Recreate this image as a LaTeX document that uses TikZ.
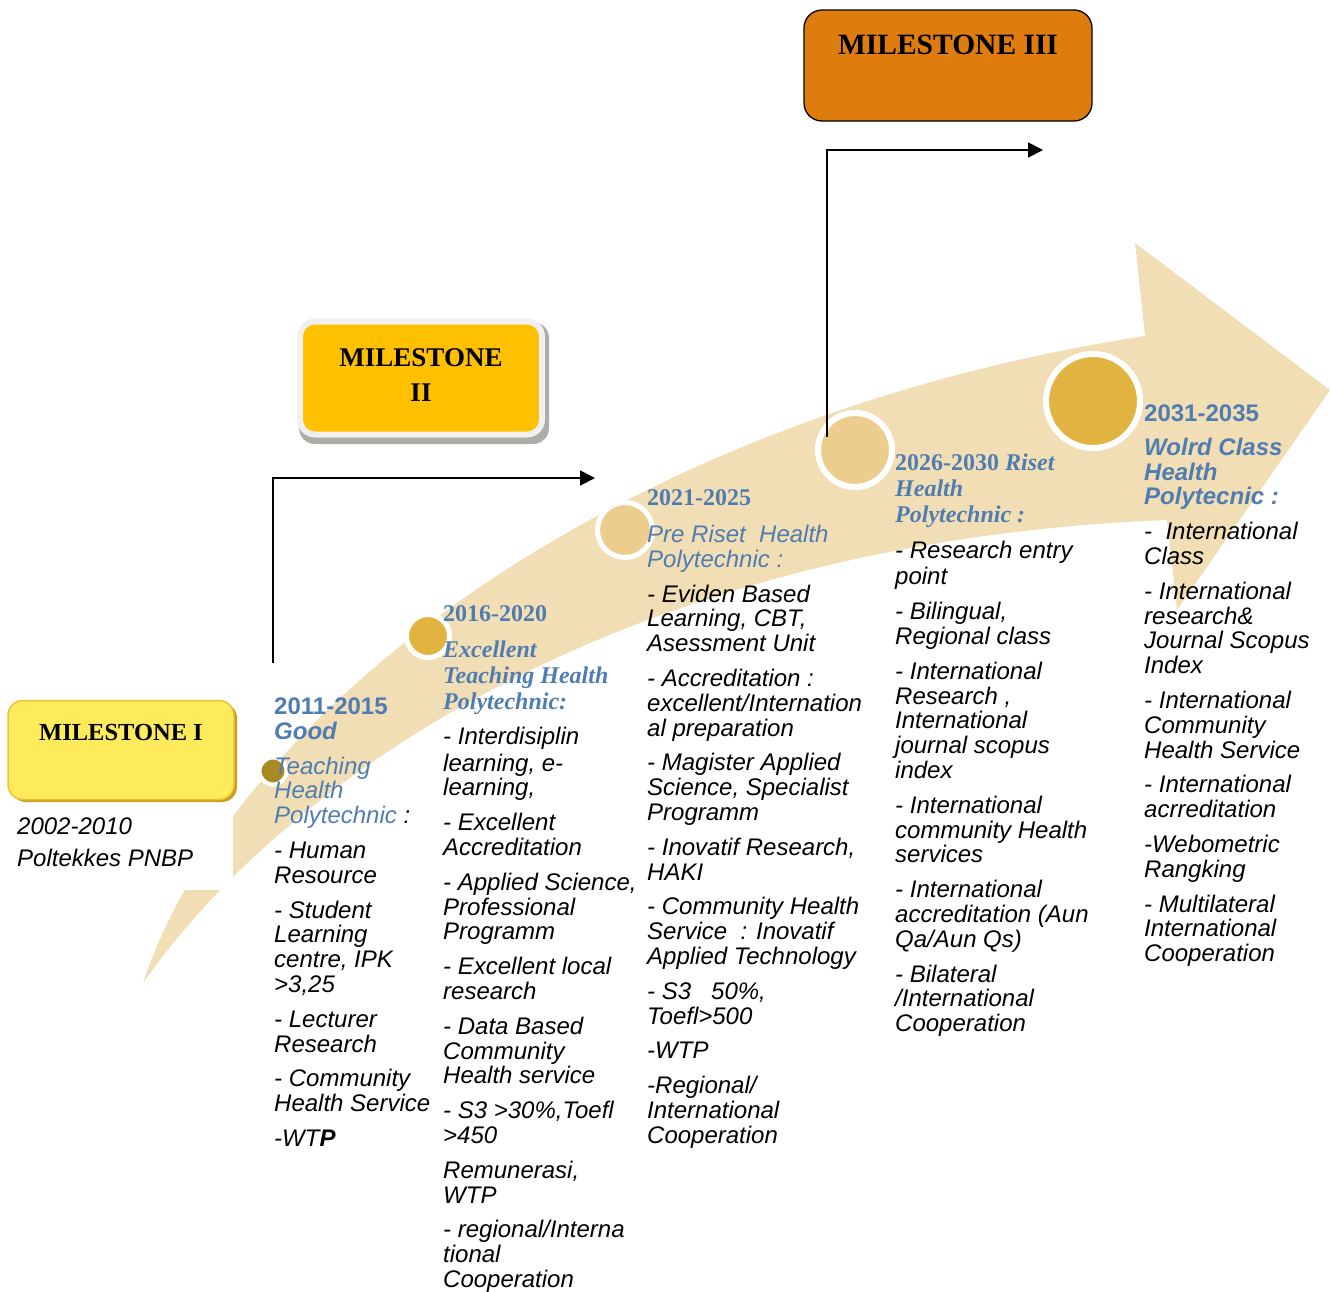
\documentclass[tikz,border=0pt]{standalone}
\usepackage{fontspec}
\setmainfont{Liberation Serif}
\setsansfont{Liberation Sans}
\usetikzlibrary{arrows.meta}
\definecolor{bandtan}{RGB}{242,222,181}
\definecolor{goldA}{RGB}{225,180,65}
\definecolor{goldB}{RGB}{236,205,142}
\definecolor{olivedot}{RGB}{168,138,34}
\definecolor{headblue}{RGB}{79,125,178}
\definecolor{msone}{RGB}{253,235,91}
\definecolor{msoneedge}{RGB}{233,194,52}
\definecolor{msoneshade}{RGB}{196,160,30}
\definecolor{mstwo}{RGB}{255,192,0}
\definecolor{msframe}{RGB}{240,240,240}
\definecolor{msshade}{RGB}{170,174,164}
\definecolor{msthree}{RGB}{222,124,14}
\newcommand{\hcol}[1]{\textcolor{headblue}{#1}}

\begin{document}
\begin{tikzpicture}[x=1pt,y=-1pt,
	txtcol/.style={anchor=north west,inner sep=0pt,align=left,font=\sffamily\itshape\fontsize{24}{24.8}\selectfont},
	ring/.style={shape=circle,draw=white,inner sep=0pt},
	conn/.style={line width=1.8pt,-{Triangle[length=15pt,width=15pt]}},
	mstext/.style={inner sep=0pt,align=center,font=\rmfamily\bfseries\fontsize{27}{35}\selectfont}]
	\useasboundingbox (0,0) rectangle (1332,1291);
	\fill[bandtan] (143,983) .. controls (230,720) and (600,420) .. (1145,336) -- (1135,243) -- (1330,390) -- (1177,610) -- (1167,520) .. controls (650,540) and (300,760) .. (143,983) -- cycle;
	\fill[white] (0,680) rectangle (233,890);

	\node[ring,fill=olivedot,line width=4pt,minimum size=27] (p1) at (273,771)  {};
	\node[ring,fill=goldA,line width=5pt,minimum size=43]    (p2) at (428,636)  {};
	\node[ring,fill=goldB,line width=5pt,minimum size=55]    (p3) at (625,530)  {};
	\node[ring,fill=goldB,line width=6pt,minimum size=74]    (p4) at (855,450)  {};
	\node[ring,fill=goldA,line width=6pt,minimum size=94]    (p5) at (1093,401) {};

	\fill[msoneshade,rounded corners=15pt] (11,703) rectangle (237,802);
	\node[shape=rectangle,rounded corners=15pt,fill=msone,draw=msoneedge,line width=1.5pt,minimum width=226,minimum height=99] (m1) at (121,750) {};
	\node[mstext,anchor=base,font=\rmfamily\bfseries\fontsize{24.5}{35}\selectfont] (m1t) at (121,740.5) {MILESTONE I};

	\fill[msshade,rounded corners=16pt] (299,322) rectangle (549,444);
	\node[shape=rectangle,rounded corners=15pt,fill=mstwo,draw=msframe,line width=6pt,minimum width=242,minimum height=113] (m2) at (421,378) {};
	\node[mstext,anchor=north] (m2t) at (421,348) {MILESTONE\\II};

	\node[shape=rectangle,rounded corners=18pt,fill=msthree,draw=black,line width=1.3pt,minimum width=288,minimum height=111] (m3) at (948,65.5) {};
	\node[mstext,anchor=base,font=\rmfamily\bfseries\fontsize{29.5}{35}\selectfont] (m3t) at (948,54.5) {MILESTONE III};

	\coordinate (a1) at (273,663);
	\coordinate (a1e) at (595,478);
	\coordinate (a2) at (827,437);
	\coordinate (a2e) at (1043,150);
	\draw[conn] (a1) |- (a1e);
	\draw[conn] (a2) |- (a2e);

	\node[txtcol] (c0) at (17,818) {2002-2010\\[7pt] Poltekkes PNBP};

	\node[txtcol] (c1) at (274,697.5) {\hcol{\bfseries\upshape 2011-2015}\\ \hcol{\bfseries Good}\\[10pt]
		\hcol{Teaching}\\ \hcol{Health}\\ \hcol{Polytechnic} :\\[10pt]
		- Human\\ Resource\\[10pt]
		- Student\\ Learning\\ centre, IPK\\ >3,25\\[10pt]
		- Lecturer\\ Research\\[10pt]
		- Community\\ Health Service\\[10pt]
		-WT\textbf{P}};

	\node[txtcol] (c2) at (443,605.5) {\hcol{\rmfamily\bfseries\upshape 2016-2020}\\[11pt]
		\hcol{\rmfamily\bfseries Excellent}\\[1.2pt] \hcol{\rmfamily\bfseries Teaching Health}\\[1.2pt] \hcol{\rmfamily\bfseries Polytechnic:}\\[10pt]
		- Interdisiplin\\[2pt] learning, e-\\ learning,\\[10pt]
		- Excellent\\ Accreditation\\[10pt]
		- Applied Science,\\ Professional\\ Programm\\[10pt]
		- Excellent local\\ research\\[10pt]
		- Data Based\\ Community\\ Health service\\[10pt]
		- S3 >30\%,Toefl\\ >450\\[10pt]
		Remunerasi,\\ WTP\\[10pt]
		- regional/Interna\\ tional\\ Cooperation};

	\node[txtcol] (c3) at (647,489.5) {\hcol{\rmfamily\bfseries\upshape 2021-2025}\\[12pt]
		\hcol{Pre Riset\ \ Health}\\ \hcol{Polytechnic :}\\[10pt]
		- Eviden Based\\ Learning, CBT,\\ Asessment Unit\\[10pt]
		- Accreditation :\\ excellent/Internation\\ al preparation\\[10pt]
		- Magister Applied\\ Science, Specialist\\ Programm\\[10pt]
		- Inovatif Research,\\ HAKI\\[10pt]
		- Community Health\\ Service\ \ : Inovatif\\ Applied Technology\\[10pt]
		- S3\ \ \ 50\%,\\ Toefl>500\\[10pt]
		-WTP\\[10pt]
		-Regional/\\ International\\ Cooperation};

	\node[txtcol] (c4) at (895,453.5) {\hcol{\rmfamily\bfseries\upshape 2026-2030 \itshape Riset}\\[1.2pt]
		\hcol{\rmfamily\bfseries Health}\\[1.2pt] \hcol{\rmfamily\bfseries Polytechnic :}\\[11pt]
		- Research entry\\[2pt] point\\[10pt]
		- Bilingual,\\ Regional class\\[10pt]
		- International\\ Research ,\\ International\\ journal scopus\\ index\\[10pt]
		- International\\ community Health\\ services\\[10pt]
		- International\\ accreditation (Aun\\ Qa/Aun Qs)\\[10pt]
		- Bilateral\\ /International\\ Cooperation};

	\node[txtcol] (c5) at (1144,404.5) {\hcol{\bfseries\upshape 2031-2035}\\[9pt]
		\hcol{\bfseries Wolrd Class}\\ \hcol{\bfseries Health}\\ \hcol{\bfseries Polytecnic :}\\[10pt]
		-\ \ International\\ Class\\[10pt]
		- International\\ research\&\\ Journal Scopus\\ Index\\[10pt]
		- International\\ Community\\ Health Service\\[10pt]
		- International\\ acrreditation\\[10pt]
		-Webometric\\ Rangking\\[10pt]
		- Multilateral\\ International\\ Cooperation};
\end{tikzpicture}
\end{document}
